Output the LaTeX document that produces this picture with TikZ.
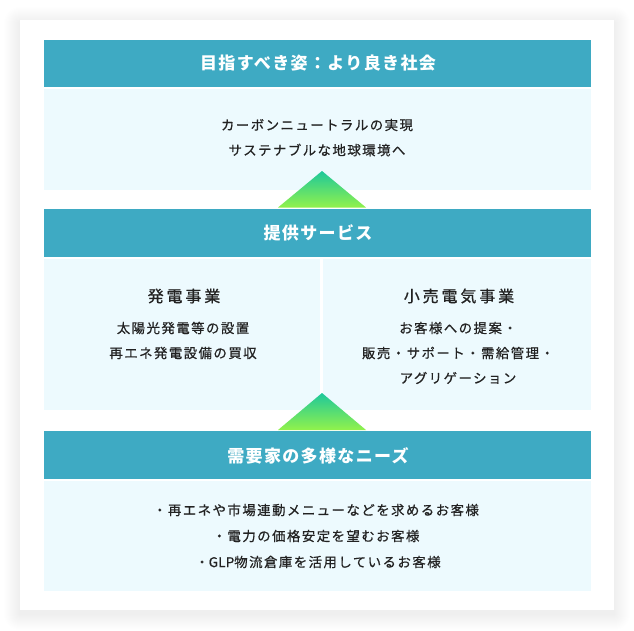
\documentclass[tikz,border=0pt]{standalone}
\usepackage{fontspec}
\setmainfont{Noto Sans CJK JP}
\definecolor{hdr}{RGB}{62,170,195}
\definecolor{bodybg}{RGB}{237,250,254}
\definecolor{txt}{RGB}{34,34,34}
\definecolor{trtop}{RGB}{30,200,155}
\definecolor{trbot}{RGB}{145,242,75}
\begin{document}
\begin{tikzpicture}[x=1pt,y=-1pt,
  hdrtext/.style={text=white,font=\fontsize{17}{20}\selectfont\bfseries\addfontfeature{LetterSpace=8}},
  bodytext/.style={text=txt,font=\fontsize{13.4}{26}\selectfont\addfontfeature{LetterSpace=11,FakeBold=0.7},align=center},
  coltitle/.style={text=txt,font=\fontsize{16}{20}\selectfont\addfontfeature{LetterSpace=18,FakeBold=0.7}},
  tri/.style={top color=trtop,bottom color=trbot,draw=none},
  shadowlayer/.style={fill=black,fill opacity=0.0045,draw=none}]
\useasboundingbox (0,0) rectangle (634,630);
\fill[white] (0,0) rectangle (634,630);
% card shadow
\foreach \d in {1,2,...,16}{
  \fill[shadowlayer,rounded corners=\d pt] (20-\d,23-\d) rectangle (614+\d,614+\d);
}
% card
\fill[white] (20,20) rectangle (614,610);
% section 1
\fill[hdr] (44,40) rectangle (591,87);
\fill[bodybg] (44,89) rectangle (591,190);
% section 2
\fill[hdr] (44,209) rectangle (591,257);
\fill[bodybg] (44,259) rectangle (320,410);
\fill[bodybg] (323,259) rectangle (591,410);
% section 3
\fill[hdr] (44,431) rectangle (591,479);
\fill[bodybg] (44,481) rectangle (591,591);
% triangles
\shade[tri] (278,207.5) -- (322,171) -- (366,207.5) -- cycle;
\shade[tri] (278,430) -- (322,393) -- (366,430) -- cycle;
% texts
\node[hdrtext] (h1) at (318,63) {目指すべき姿：より良き社会};
\node[bodytext] (b1a) at (317,125) {カーボンニュートラルの実現};
\node[bodytext] (b1b) at (317,150) {サステナブルな地球環境へ};
\node[hdrtext] (h2) at (318,233) {提供サービス};
\node[coltitle] (c1) at (184,296) {発電事業};
\node[bodytext] (c1a) at (183,328) {太陽光発電等の設置};
\node[bodytext] (c1b) at (183,353) {再エネ発電設備の買収};
\node[coltitle] (c2) at (459,296) {小売電気事業};
\node[bodytext] (c2a) at (458,328) {お客様への提案・};
\node[bodytext] (c2b) at (458,353) {販売・サポート・需給管理・};
\node[bodytext] (c2c) at (458,378) {アグリゲーション};
\node[hdrtext] (h3) at (318,456) {需要家の多様なニーズ};
\node[bodytext] (b3a) at (316,510) {・再エネや市場連動メニューなどを求めるお客様};
\node[bodytext] (b3b) at (316,536) {・電力の価格安定を望むお客様};
\node[bodytext] (b3c) at (318,562) {・{\addfontfeature{LetterSpace=2}GLP}物流倉庫を活用しているお客様};
\end{tikzpicture}
\end{document}
